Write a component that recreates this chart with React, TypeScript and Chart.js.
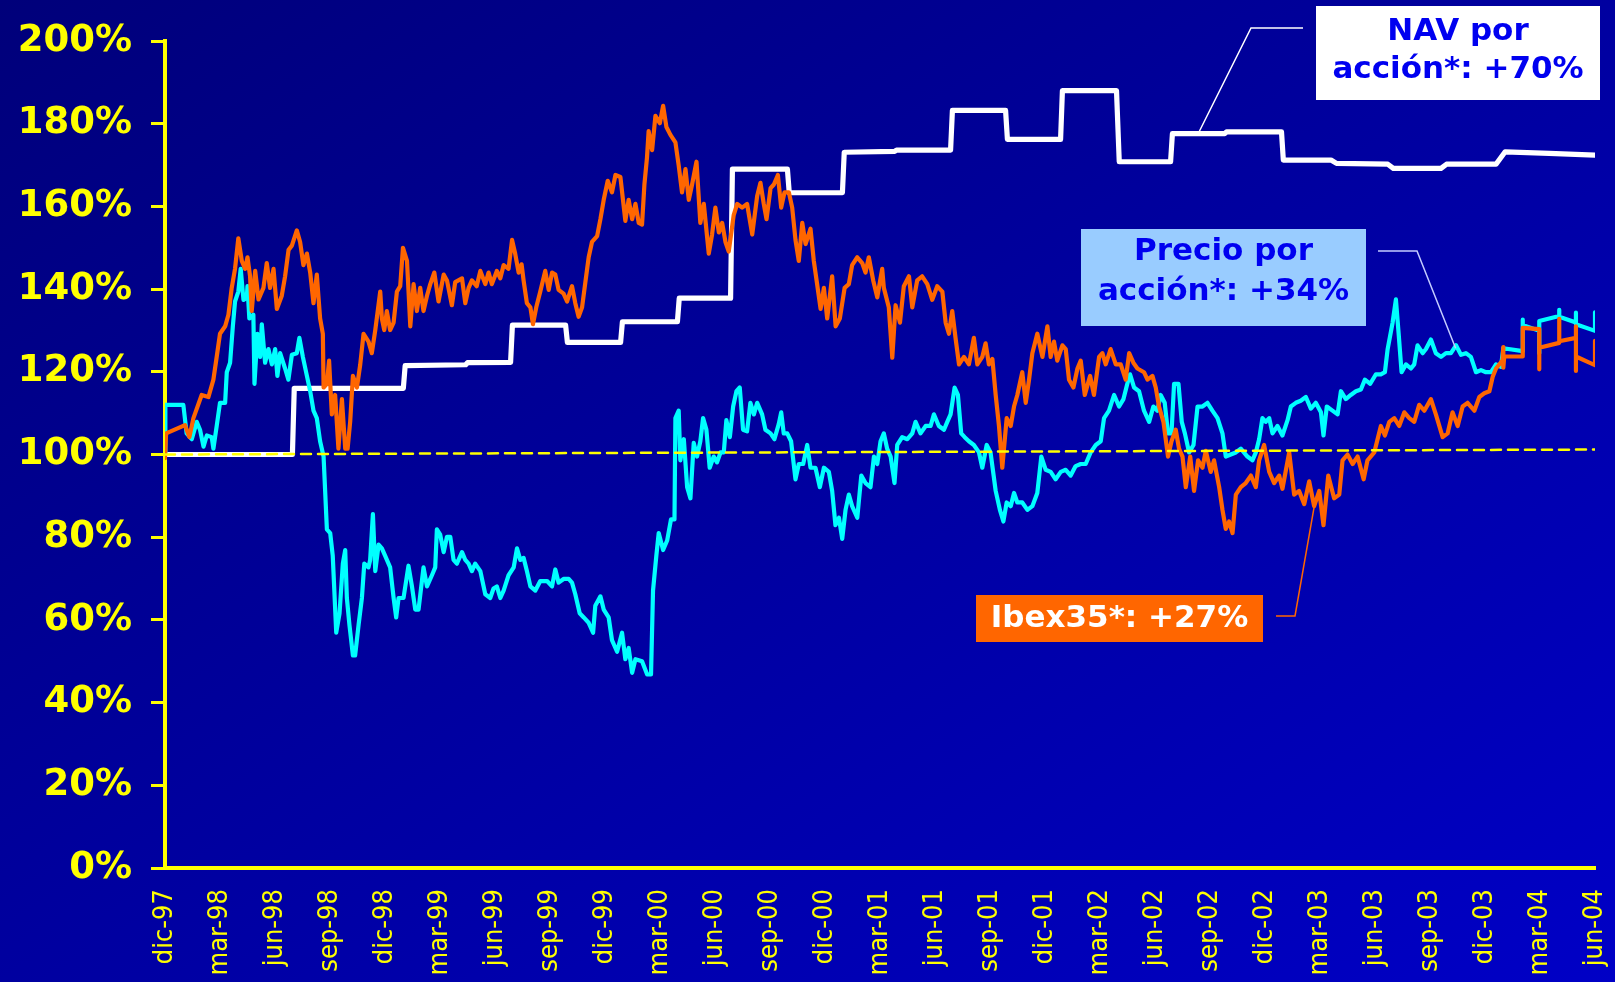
import React, { useEffect, useRef } from "react";
import { Chart, registerables } from "chart.js";

Chart.register(...registerables);

const W = 1615;
const H = 982;
const FONT = '"DejaVu Sans", Verdana, sans-serif';
const FONT_COND = '"DejaVu Sans Condensed", "DejaVu Sans", Verdana, sans-serif';

// x = months since dic-97
const quarterLabels = [
  "dic-97", "mar-98", "jun-98", "sep-98", "dic-98", "mar-99", "jun-99", "sep-99", "dic-99",
  "mar-00", "jun-00", "sep-00", "dic-00", "mar-01", "jun-01", "sep-01", "dic-01", "mar-02",
  "jun-02", "sep-02", "dic-02", "mar-03", "jun-03", "sep-03", "dic-03", "mar-04", "jun-04",
];

const navMonths = [0, 6.95, 7.05, 13.0, 13.1, 16.4, 16.5, 18.85, 18.95, 21.85, 21.95, 24.85, 24.95, 27.95, 28.05, 30.85, 30.95, 33.95, 34.05, 36.95, 37.05, 39.8, 39.9, 42.85, 42.95, 45.85, 45.95, 48.85, 48.95, 51.9, 52.05, 54.85, 54.95, 57.8, 57.9, 60.9, 61.0, 63.6, 63.9, 66.7, 67.0, 69.6, 69.9, 72.6, 73.1, 75.5, 78];
const navValues = [100, 100, 116, 116, 121.5, 121.7, 122.2, 122.3, 131.3, 131.3, 127.1, 127.1, 132.1, 132.1, 137.8, 137.8, 169, 169, 163.3, 163.3, 173.1, 173.3, 173.6, 173.6, 183.2, 183.2, 176.2, 176.2, 188, 188, 170.8, 170.8, 177.6, 177.6, 178, 178, 171.2, 171.2, 170.4, 170.2, 169.2, 169.2, 170.2, 170.2, 173.2, 172.8, 172.4];

const ibexMonths = [
  0.0, 0.06, 1.09, 1.33, 1.55, 2.0, 2.37, 2.64, 2.82, 3.0, 3.28, 3.46, 3.64, 3.82, 4.0, 4.19, 4.37, 4.5, 4.64, 4.73, 4.92, 5.1, 5.37, 5.55, 5.73, 5.92, 6.1, 6.37, 6.55, 6.74, 6.92, 7.19, 7.37, 7.55, 7.74, 7.92, 8.1, 8.28, 8.46, 8.61, 8.65, 8.83, 8.95, 9.1, 9.28, 9.46, 9.65, 9.83, 9.96, 10.1, 10.25, 10.47, 10.65, 10.83, 11.1, 11.28, 11.47, 11.74, 11.83, 11.96, 12.1, 12.28, 12.47, 12.65, 12.83, 12.98, 13.2, 13.38, 13.56, 13.74, 13.92, 14.1, 14.29, 14.47, 14.69, 14.92, 15.2, 15.38, 15.65, 15.83, 16.2, 16.38, 16.56, 16.74, 17.0, 17.2, 17.47, 17.65, 17.83, 18.1, 18.29, 18.47, 18.74, 18.93, 19.1, 19.29,
  19.45, 19.56, 19.74, 19.93, 20.07, 20.25, 20.47, 20.74, 20.93, 21.11, 21.29, 21.47, 21.74, 21.93, 22.2, 22.38, 22.56, 22.75, 22.93, 23.11, 23.29, 23.57, 23.75, 23.93, 24.15, 24.38, 24.57, 24.84, 25.11, 25.29, 25.48, 25.66, 25.84, 26.02, 26.15, 26.29, 26.38, 26.57, 26.75, 26.99, 27.17, 27.35, 27.57, 27.84, 28.02, 28.2, 28.39, 28.57, 28.75, 28.99, 29.2, 29.39, 29.66, 29.84, 30.02, 30.21, 30.39, 30.57, 30.75, 31.02, 31.21, 31.48, 31.75, 32.03, 32.3, 32.48, 32.66, 32.81, 33.03, 33.21, 33.43, 33.61, 33.79, 34.03, 34.21, 34.39, 34.57, 34.76, 34.94, 35.21, 35.39, 35.57, 35.76, 35.94, 36.12, 36.39, 36.58, 36.81, 37.07, 37.3, 37.48, 37.76, 38.03, 38.21, 38.39, 38.63, 38.85, 39.12,
  39.21, 39.48, 39.67, 39.85, 40.09, 40.3, 40.58, 40.76, 41.03, 41.3, 41.58, 41.85, 42.12, 42.4, 42.58, 42.76, 42.94, 43.12, 43.31, 43.58, 43.85, 44.12, 44.31, 44.58, 44.76, 44.94, 45.13, 45.31, 45.49, 45.67, 45.91, 46.13, 46.31, 46.49, 46.76, 46.95, 47.13, 47.31, 47.58, 47.86, 48.13, 48.31, 48.49, 48.67, 48.95, 49.13, 49.31, 49.55, 49.77, 49.95, 50.17, 50.46, 50.67, 50.95, 51.13, 51.31, 51.58, 51.86, 52.13, 52.4, 52.59, 52.82, 53.04, 53.4, 53.59, 53.86, 54.04, 54.22, 54.46, 54.71, 54.9, 55.13, 55.31, 55.5, 55.68, 55.92, 56.13, 56.35, 56.59, 56.77, 57.04, 57.22, 57.5, 57.68, 57.86, 58.04, 58.23, 58.41, 58.68,
  58.95, 59.23, 59.5, 59.68, 59.95, 60.23, 60.5, 60.77, 60.95, 61.32, 61.59, 61.86, 62.14, 62.41, 62.68, 62.96, 63.19, 63.45, 63.77, 64.05, 64.23, 64.5, 64.78, 65.05, 65.38, 65.59, 65.96, 66.32, 66.54, 66.78, 67.05, 67.32, 67.6, 67.87, 68.14, 68.41, 68.69, 69.05, 69.32, 69.69, 69.96, 70.23, 70.51, 70.78, 71.05, 71.42, 71.69, 71.96, 72.24, 72.42, 72.6, 72.96, 73.0, 73.0, 73.05, 74.06, 74.06, 74.96, 74.96, 74.96, 76.05, 76.05, 76.05, 76.96, 76.96, 76.96, 76.96, 78.0, 78.0,
];
const ibexValues = [
  99.1, 105.1, 107.1, 104.2, 108.8, 114.4, 113.9, 118.1, 123.6, 129.2, 131.0, 133.8, 140.3, 144.9, 152.3, 146.8, 144.9, 147.7, 143.1, 134.7, 144.4, 137.5, 140.3, 146.3, 140.3, 144.9, 135.2, 138.4, 143.1, 149.5, 150.5, 154.2, 151.4, 145.8, 148.6, 144.0, 136.6, 143.5, 132.9, 129.2, 116.2, 117.1, 122.7, 109.7, 114.4, 101.4, 113.4, 101.4, 101.4, 107.9, 119.0, 116.2, 121.8, 129.2, 127.3, 124.5, 130.1, 139.4, 132.9, 130.1, 134.7, 130.1, 131.9, 139.4, 140.7, 150.0, 146.8, 131.0, 141.2, 134.7, 140.3, 134.7, 138.4, 141.2, 144.0, 137.0, 143.5, 142.1, 136.1, 141.7, 142.6, 136.6, 140.3, 142.1, 140.7, 144.4, 141.2, 144.0, 141.2, 144.4, 142.6, 145.8, 144.9, 151.9, 148.6, 144.0,
  146.0, 142.1, 136.6, 135.6, 131.5, 135.6, 139.4, 144.4, 139.8, 144.0, 143.5, 139.8, 138.9, 137.0, 140.7, 136.6, 133.3, 135.6, 141.7, 147.7, 151.4, 152.8, 156.9, 161.6, 166.2, 163.4, 167.6, 167.1, 156.5, 161.6, 156.9, 160.6, 156.0, 155.6, 165.3, 171.8, 178.2, 173.6, 181.9, 180.1, 184.3, 179.2, 177.3, 175.5, 169.9, 163.4, 169.0, 161.6, 165.3, 170.8, 156.0, 160.6, 148.6, 153.2, 159.7, 153.7, 156.0, 151.4, 149.1, 157.9, 160.6, 159.7, 160.6, 153.2, 162.5, 165.7, 160.6, 156.9, 164.4, 165.3, 167.6, 159.7, 163.4, 163.4, 159.7, 151.9, 146.8, 156.0, 150.9, 154.6, 146.8, 141.2, 135.2, 140.3, 132.9, 143.1, 131.0, 132.9, 140.3, 141.2, 145.8, 147.7, 146.3, 144.0, 147.7, 142.1, 138.0, 144.9,
  140.3, 135.6, 123.4, 136.1, 131.9, 140.7, 143.1, 135.6, 142.1, 143.1, 141.2, 137.4, 140.7, 139.4, 131.9, 129.2, 134.7, 128.2, 121.8, 123.6, 121.8, 128.2, 121.8, 123.6, 126.9, 121.8, 123.1, 114.4, 106.9, 96.8, 108.8, 106.9, 111.6, 114.4, 119.9, 112.5, 118.1, 124.5, 129.2, 123.6, 131.0, 123.6, 127.3, 122.7, 126.4, 125.5, 118.1, 116.2, 120.8, 122.7, 114.4, 119.0, 114.4, 123.6, 124.5, 121.8, 125.5, 121.8, 121.8, 118.1, 124.5, 122.2, 120.8, 119.9, 118.1, 119.0, 116.2, 111.6, 107.9, 99.5, 103.2, 106.0, 101.4, 99.5, 92.1, 99.5, 91.2, 98.6, 96.8, 100.9, 95.8, 98.6, 92.1, 86.6, 82.0, 83.8, 81.0, 90.3, 92.1,
  93.1, 94.9, 92.1, 98.6, 102.3, 95.8, 93.1, 94.9, 91.7, 100.5, 90.3, 91.2, 88.0, 93.5, 87.5, 91.2, 82.9, 94.9, 89.4, 90.3, 98.6, 100.0, 97.7, 99.5, 94.0, 98.6, 100.5, 106.9, 104.6, 107.9, 108.8, 106.9, 110.2, 108.8, 107.9, 112.0, 110.6, 113.4, 109.7, 104.2, 105.1, 110.2, 106.9, 111.6, 112.5, 110.6, 113.9, 114.8, 115.3, 118.8, 120.8, 122.8, 126.0, 121.0, 123.7, 123.7, 130.6, 130.3, 120.6, 125.8, 127.0, 132.8, 127.4, 128.2, 131.0, 120.2, 123.7, 121.6, 127.5,
];

const precioMonths = [
  0.0, 0.02, 1.0, 1.18, 1.46, 1.73, 1.91, 2.1, 2.28, 2.55, 2.64, 2.82, 3.0, 3.28, 3.37, 3.55, 3.7, 3.82, 4.0, 4.13, 4.28, 4.46, 4.5, 4.6, 4.82, 4.88, 5.04, 5.19, 5.28, 5.46, 5.64, 5.83, 6.01, 6.13, 6.28, 6.55, 6.73, 6.92, 7.19, 7.33, 7.52, 7.74, 7.92, 8.1, 8.28, 8.46, 8.65, 8.83, 9.01, 9.15, 9.34, 9.52, 9.7, 9.83, 9.92, 10.06, 10.25, 10.37, 10.56, 10.74, 10.87, 11.1, 11.19, 11.34, 11.47, 11.65, 11.83, 12.01, 12.28, 12.47, 12.61, 12.74, 13.01, 13.28, 13.47, 13.65, 13.83, 14.1, 14.29, 14.56, 14.74, 14.83, 15.01, 15.2, 15.38, 15.56, 15.74, 15.92, 16.2, 16.38, 16.56, 16.74, 16.92, 17.2, 17.47, 17.74, 17.92, 18.1, 18.29, 18.47, 18.74, 19.02, 19.2, 19.38,
  19.56, 19.74, 19.93, 20.2, 20.47, 20.84, 21.11, 21.29, 21.47, 21.74, 22.02, 22.2, 22.38, 22.62, 22.84, 23.11, 23.35, 23.47, 23.75, 23.93, 24.2, 24.38, 24.66, 24.93, 25.11, 25.29, 25.48, 25.66, 26.02, 26.3, 26.51, 26.62, 26.8, 26.93, 27.17, 27.39, 27.6, 27.79, 27.84, 28.02, 28.11, 28.3, 28.48, 28.66, 28.84, 29.02, 29.2, 29.35, 29.53, 29.71, 29.93, 30.11, 30.3, 30.48, 30.62, 30.81, 30.99, 31.17, 31.35, 31.53, 31.75, 31.93, 32.12, 32.3, 32.57, 32.75, 33.03, 33.24, 33.48, 33.61, 33.75, 33.94, 34.15, 34.39, 34.57, 34.81, 35.03, 35.21, 35.48, 35.72, 35.94, 36.21, 36.39, 36.57, 36.76, 36.94, 37.12, 37.3, 37.48, 37.76, 37.98, 38.21, 38.48, 38.67, 38.85, 39.03,
  39.21, 39.39, 39.58, 39.79, 39.94, 40.21, 40.49, 40.76, 40.94, 41.21, 41.49, 41.76, 41.94, 42.21, 42.49, 42.67, 42.85, 43.07, 43.25, 43.43, 43.62, 43.85, 44.12, 44.4, 44.58, 44.82, 45.03, 45.31, 45.54, 45.73, 45.91, 46.13, 46.31, 46.49, 46.76, 47.04, 47.31, 47.58, 47.8, 48.04, 48.31, 48.58, 48.86, 49.13, 49.4, 49.67, 49.95, 50.22, 50.49, 50.77, 51.04, 51.22, 51.49, 51.77, 52.04, 52.28, 52.49, 52.64, 52.86, 53.13, 53.4, 53.68, 53.91, 54.13, 54.31, 54.53, 54.71, 54.9, 55.04, 55.28, 55.46, 55.63, 55.86, 56.1, 56.32, 56.59, 56.86, 57.13, 57.41, 57.68, 57.86, 58.13, 58.41, 58.68,
  59.04, 59.32, 59.5, 59.68, 59.86, 60.04, 60.23, 60.41, 60.68, 60.95, 61.23, 61.41, 61.68, 61.95, 62.23, 62.5, 62.77, 63.05, 63.19, 63.37, 63.68, 63.96, 64.14, 64.41, 64.68, 64.96, 65.23, 65.45, 65.74, 66.05, 66.32, 66.54, 66.69, 66.96, 67.14, 67.29, 67.45, 67.69, 67.96, 68.14, 68.32, 68.6, 68.78, 69.05, 69.32, 69.6, 69.87, 70.14, 70.42, 70.69, 70.96, 71.23, 71.51, 71.78, 72.05, 72.33, 72.6, 72.87, 73.0, 74.06, 74.06, 74.06, 74.96, 74.96, 74.96, 76.05, 76.05, 76.05, 76.96, 76.96, 76.96, 78.0, 78.0,
];
const precioValues = [
  100.5, 112.0, 112.0, 105.1, 103.7, 107.9, 106.0, 101.9, 104.6, 104.2, 101.4, 106.9, 112.5, 112.5, 119.9, 122.2, 131.0, 137.0, 139.4, 144.9, 137.4, 137.9, 140.7, 132.9, 133.8, 117.1, 129.2, 123.6, 131.5, 122.2, 125.5, 121.8, 125.5, 119.0, 124.5, 120.8, 118.1, 124.1, 124.5, 128.2, 123.6, 119.0, 115.3, 110.6, 108.8, 103.2, 99.5, 81.9, 81.0, 75.5, 56.9, 61.6, 73.6, 76.9, 65.3, 58.8, 51.4, 51.4, 58.8, 65.3, 73.6, 72.7, 74.5, 85.6, 71.8, 78.2, 77.3, 75.5, 72.7, 65.3, 60.6, 65.3, 65.3, 73.1, 68.1, 62.5, 62.5, 72.7, 68.1, 70.8, 72.7, 81.9, 80.6, 76.4, 80.1, 80.1, 74.5, 73.6, 76.4, 74.5, 73.6, 71.8, 73.6, 71.8, 66.2, 65.3, 67.6, 68.1, 65.3, 67.1, 70.8, 72.7, 77.3, 74.5,
  75.0, 71.8, 68.1, 67.1, 69.4, 69.4, 68.1, 72.2, 69.0, 69.9, 69.9, 69.0, 66.2, 61.6, 60.6, 59.3, 56.9, 63.4, 65.7, 62.5, 60.6, 55.1, 52.3, 56.9, 50.5, 53.2, 47.2, 50.5, 50.0, 46.8, 46.8, 67.1, 75.5, 81.0, 76.9, 79.2, 84.3, 84.3, 108.8, 110.6, 98.6, 103.7, 92.1, 89.4, 102.8, 99.5, 103.2, 108.8, 106.0, 96.8, 99.5, 98.1, 100.5, 100.5, 108.3, 104.2, 111.6, 115.3, 116.2, 106.0, 105.6, 112.5, 109.7, 112.5, 109.7, 106.0, 105.1, 103.7, 107.4, 110.2, 105.1, 105.1, 103.2, 94.0, 97.7, 97.7, 102.3, 96.8, 96.8, 92.1, 96.8, 95.8, 91.2, 82.9, 84.7, 79.6, 86.6, 90.3, 87.5, 84.7, 94.9, 93.1, 92.1, 99.5, 97.7, 103.2,
  105.1, 101.4, 99.5, 93.1, 102.3, 104.2, 103.7, 105.1, 107.9, 105.1, 106.9, 106.9, 109.7, 106.9, 106.0, 107.9, 109.7, 116.2, 114.4, 105.1, 104.2, 103.2, 102.3, 100.5, 96.8, 102.3, 100.5, 91.2, 86.6, 83.8, 88.4, 87.5, 90.7, 88.4, 88.4, 86.6, 87.5, 90.7, 99.5, 96.3, 95.8, 94.0, 95.8, 96.3, 94.9, 97.2, 97.7, 97.7, 100.5, 102.3, 103.2, 108.8, 110.6, 114.4, 111.6, 113.4, 117.1, 119.4, 116.2, 115.3, 110.6, 107.9, 111.6, 110.6, 114.4, 112.5, 105.1, 105.1, 117.1, 117.1, 107.9, 105.1, 100.5, 102.3, 111.6, 111.6, 112.5, 110.6, 108.8, 105.1, 99.5, 100.0, 100.5, 101.4,
  99.5, 98.6, 100.5, 103.7, 108.8, 107.9, 108.8, 105.1, 106.9, 104.6, 108.3, 111.6, 112.5, 113.0, 113.9, 111.1, 112.5, 110.2, 104.6, 111.6, 110.6, 109.7, 115.3, 113.4, 114.4, 115.3, 115.7, 118.1, 117.1, 119.4, 119.4, 119.9, 125.5, 131.9, 137.5, 129.2, 119.9, 121.8, 120.8, 121.8, 126.4, 124.5, 125.5, 127.8, 124.5, 123.6, 124.5, 124.5, 126.4, 124.1, 124.5, 123.6, 119.9, 120.4, 119.9, 119.9, 121.8, 121.2, 125.7, 125.0, 132.6, 131.3, 129.9, 124.5, 132.3, 133.5, 135.0, 133.3, 131.9, 134.3, 131.5, 129.9, 134.4,
];

const baseMonths = [0, 78];
const baseValues = [100, 101.2];

// Callout anchors on the series (month, value)
const navAnchor = [56.4, 178];
const precioAnchor = [70.4, 125.7];
const ibexAnchor = [62.7, 87.8];

const navText = ["NAV por", "acción*: +70%"];
const precioText = ["Precio por", "acción*: +34%"];
const ibexText = ["Ibex35*: +27%"];

function pairs(xs: number[], ys: number[]) {
  return xs.map((x, i) => ({ x, y: ys[i] }));
}

const notesPlugin = {
  id: "notes",
  afterDatasetsDraw(chart: any) {
    const { ctx, scales } = chart;
    const sx = scales.x;
    const sy = scales.y;
    const px = (a: number[]) => [sx.getPixelForValue(a[0]), sy.getPixelForValue(a[1])];

    const connector = (pts: number[][], anchor: number[], color: string) => {
      const [ax, ay] = px(anchor);
      ctx.save();
      ctx.strokeStyle = color;
      ctx.lineWidth = 1.5;
      ctx.beginPath();
      ctx.moveTo(pts[0][0], pts[0][1]);
      for (let i = 1; i < pts.length; i++) ctx.lineTo(pts[i][0], pts[i][1]);
      ctx.lineTo(ax, ay);
      ctx.stroke();
      ctx.restore();
    };

    const box = (x0: number, y0: number, x1: number, y1: number, fill: string, lines: string[], color: string, lineYs: number[]) => {
      ctx.save();
      ctx.fillStyle = fill;
      ctx.fillRect(x0, y0, x1 - x0, y1 - y0);
      ctx.fillStyle = color;
      ctx.font = `bold 31px ${FONT}`;
      ctx.textAlign = "center";
      ctx.textBaseline = "middle";
      lines.forEach((t, i) => ctx.fillText(t, (x0 + x1) / 2, lineYs[i]));
      ctx.restore();
    };

    connector([[1303, 28], [1251, 28]], navAnchor, "#ffffff");
    connector([[1378, 251], [1417, 251]], precioAnchor, "#c4ccff");
    connector([[1276, 616], [1295, 616]], ibexAnchor, "#ff6600");

    box(1316, 6, 1600, 100, "#ffffff", navText, "#0000f0", [32, 70]);
    box(1081, 229, 1366, 326, "#99ccff", precioText, "#0000f0", [252, 292]);
    box(976, 595, 1263, 642, "#ff6600", ibexText, "#ffffff", [619]);
  },
};

export default function App() {
  const ref = useRef<HTMLCanvasElement>(null);
  useEffect(() => {
    const chart = new Chart(ref.current as HTMLCanvasElement, {
      type: "line",
      data: {
        datasets: [
          { label: "Base", data: pairs(baseMonths, baseValues), borderColor: "#ffff00", borderWidth: 2.5, borderDash: [10, 7], pointRadius: 0, order: 0 },
          { label: "Ibex35", data: pairs(ibexMonths, ibexValues), borderColor: "#ff6600", borderWidth: 4.2, pointRadius: 0, order: 1 },
          { label: "Precio", data: pairs(precioMonths, precioValues), borderColor: "#00ffff", borderWidth: 4.2, pointRadius: 0, order: 2 },
          { label: "NAV", data: pairs(navMonths, navValues), borderColor: "#ffffff", borderWidth: 5.2, pointRadius: 0, order: 3 },
        ],
      },
      options: {
        animation: false,
        responsive: false,
        devicePixelRatio: 1,
        layout: { padding: { top: 41, right: 20, left: 0, bottom: 0 } },
        plugins: { legend: { display: false }, tooltip: { enabled: false } },
        elements: { line: { tension: 0, borderJoinStyle: "round", borderCapStyle: "round" } },
        scales: {
          x: {
            type: "linear",
            min: 0,
            max: 78,
            afterFit: (s: any) => { s.height = 114; s.paddingLeft = 0; s.paddingRight = 0; },
            afterBuildTicks: (s: any) => { s.ticks = quarterLabels.map((_, i) => ({ value: i * 3 })); },
            ticks: {
              autoSkip: false,
              maxRotation: 90,
              minRotation: 90,
              padding: 21,
              color: "#ffff00",
              font: { family: FONT_COND, size: 27 },
              callback: (v: any) => quarterLabels[Math.round(Number(v) / 3)] ?? "",
            },
            grid: { display: false, drawTicks: false },
            border: { display: true, color: "#ffff00", width: 4 },
          },
          y: {
            min: 0,
            max: 200,
            afterFit: (s: any) => { s.width = 165; s.paddingTop = 0; s.paddingBottom = 0; },
            ticks: {
              stepSize: 20,
              padding: 19,
              color: "#ffff00",
              font: { family: FONT, size: 37, weight: "bold" },
              callback: (v: any) => `${v}%`,
            },
            grid: { display: true, drawOnChartArea: false, drawTicks: true, tickLength: 14, color: "#ffff00", lineWidth: 3 },
            border: { display: true, color: "#ffff00", width: 4 },
          },
        },
      } as any,
      plugins: [notesPlugin],
    });
    return () => chart.destroy();
  }, []);

  return (
    <div
      style={{
        position: "fixed",
        left: 0,
        top: 0,
        width: W,
        height: H,
        background: "linear-gradient(to bottom right, #00007a, #0000c6)",
      }}
    >
      <canvas ref={ref} width={W} height={H} style={{ display: "block" }} />
    </div>
  );
}
